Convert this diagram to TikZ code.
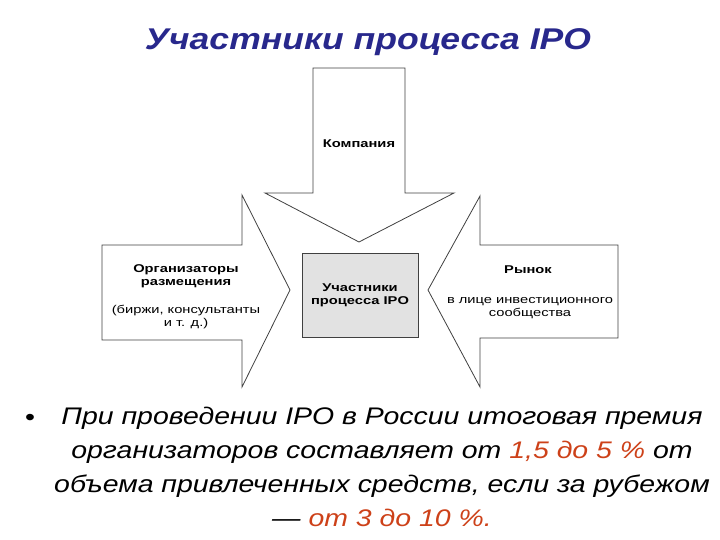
\documentclass[tikz,border=0pt]{standalone}
\usepackage{fontspec}
\setmainfont[FakeStretch=1.185]{Liberation Sans}
\newfontfamily\diagfont[FakeStretch=1.3]{Liberation Sans}
\usetikzlibrary{positioning}
\definecolor{titleblue}{RGB}{40,40,140}
\definecolor{accentred}{RGB}{205,65,25}
\definecolor{boxgray}{RGB}{226,226,226}

\begin{document}
\begin{tikzpicture}[x=1pt,y=-1pt,
    every node/.append style={font=\diagfont\fontsize{11.3}{13}\selectfont,
                              align=center, inner sep=1pt},
    arrowshape/.style={draw=black!75, line width=.8pt, fill=white, line join=miter},
    bold/.style={font=\diagfont\fontsize{11.3}{13}\selectfont\bfseries}]
    \useasboundingbox (0,0) rectangle (720,540);
    % the three big arrows
    \draw[arrowshape] (313,68) -- (405,68) -- (405,193) -- (454,193) -- (359,242)
          -- (265,193) -- (313,193) -- cycle;
    \draw[arrowshape] (102,245) -- (242,245) -- (242,195) -- (290,290) -- (242,387)
          -- (242,340) -- (102,340) -- cycle;
    \draw[arrowshape] (618,245) -- (480,245) -- (480,196) -- (428,290) -- (480,387)
          -- (480,338) -- (618,338) -- cycle;
    \node[bold, draw=black!75, line width=.8pt, fill=boxgray,
          minimum width=116pt, minimum height=84pt] (ipo) at (360,295)
          {Участники\\процесса IPO};
    \node[bold] (company) at (359,144) {Компания};
    \node[bold] (orghead) at (186,276) {Организаторы\\размещения};
    \node (orgnote) at (186,317) {(биржи, консультанты\\и т. д.)};
    \node[bold] (market) at (528,270) {Рынок};
    \node (marketnote) at (530,308) {в лице инвестиционного\\сообщества};
    % title and text
    \node[font=\fontsize{30}{36}\selectfont\bfseries\itshape, text=titleblue,
          anchor=base] (title) at (368,50) {Участники процесса IPO};
    \node[font=\fontsize{24}{30}\selectfont, anchor=base] (dot) at (30,425) {•};
    \node[font=\fontsize{24}{34}\selectfont\itshape, anchor=north, inner sep=0pt]
          (premium) at (382,407)
          {При проведении IPO в России итоговая премия\\
           организаторов составляет от \textcolor{accentred}{1,5 до 5 \%} от\\
           объема привлеченных средств, если за рубежом\\
           — \textcolor{accentred}{от 3 до 10 \%.}};
\end{tikzpicture}
\end{document}
